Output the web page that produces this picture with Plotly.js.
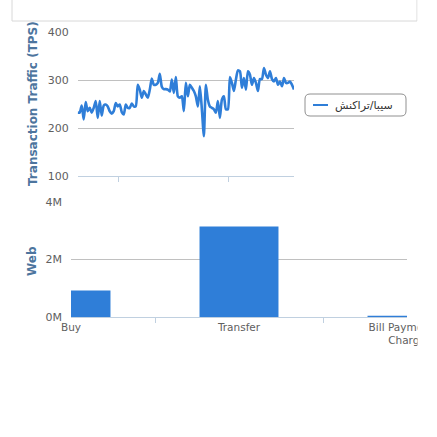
<!DOCTYPE html>
<html>
<head>
<meta charset="utf-8">
<script src="https://cdn.plot.ly/plotly-3.0.1.min.js"></script>
<style>
html,body{margin:0;padding:0;background:#fff;}
#chart{width:437px;height:437px;}
</style>
</head>
<body>
<div id="chart"></div>
<script>
// ---- data ----
var trafficName = "سیبا/تراکنش";
var trafficTPS = [232,232,247,218,254,235,242,232,242,256,221,256,226,247,249,245,235,230,235,252,
  245,249,233,228,249,242,242,251,245,245,290,280,263,277,270,263,280,303,290,290,
  294,313,286,281,281,280,276,301,273,306,266,263,266,235,294,266,290,284,277,266,
  245,287,239,183,290,259,245,242,239,232,256,221,259,266,239,239,306,294,277,301,
  320,318,284,304,280,318,311,290,304,294,277,302,302,325,311,304,318,302,297,304,
  290,297,287,304,294,294,297,290,280];
var trafficTickPositions = [20.4, 75.5];
var trafficYTicks = [100, 200, 300, 400];

var webCategories = ["Buy", "Transfer", "Bill Payment &<br>Charge"];
var webValues = [920000, 3150000, 40000];
var webYTicks = [0, 2000000, 4000000];
var webYTickLabels = ["0M", "2M", "4M"];

// ---- helpers ----
var W = 437, H = 437;
function px(x){ return x / W; }
function py(y){ return 1 - y / H; }
var idx = trafficTPS.map(function(_, i){ return i; });

var blue = "#2f7ed8";
var FONT = "DejaVu Sans, Verdana, sans-serif";
var tickFont = {family: FONT, size: 11, color: "#606060"};
var titleColor = "#4d759e";

var traces = [
  {
    type: "scatter", mode: "lines", name: trafficName,
    x: idx, y: trafficTPS, xaxis: "x", yaxis: "y",
    line: {color: blue, width: 2.6, shape: "spline", smoothing: 0.6},
    hoverinfo: "y", showlegend: false
  },
  {
    type: "bar", name: "Web", x: webCategories, y: webValues,
    xaxis: "x2", yaxis: "y2", marker: {color: blue, line: {width: 0}},
    width: 0.47, showlegend: false
  }
];

var layout = {
  width: W, height: H, autosize: false,
  margin: {l: 0, r: 0, t: 0, b: 0},
  paper_bgcolor: "#fff", plot_bgcolor: "rgba(0,0,0,0)",
  font: {family: FONT, size: 11, color: "#333"},
  showlegend: false,
  xaxis: {
    domain: [px(77.7), px(294)], range: [0, trafficTPS.length - 1],
    showgrid: false, zeroline: false, showline: true, linecolor: "#C0D0E0", linewidth: 1,
    ticks: "outside", ticklen: 5, tickcolor: "#C0D0E0",
    tickmode: "array", tickvals: trafficTickPositions, ticktext: ["", ""],
    automargin: false, fixedrange: true
  },
  yaxis: {
    domain: [py(176), py(32)], range: [100, 400],
    tickmode: "array", tickvals: trafficYTicks,
    showgrid: true, gridcolor: "#C0C0C0", gridwidth: 1,
    zeroline: false, showline: false, ticks: "", ticklabelstandoff: 8,
    tickfont: tickFont, automargin: false, fixedrange: true
  },
  xaxis2: {
    domain: [px(71), px(407)], range: [0, 2], type: "category",
    anchor: "y2", tickson: "boundaries",
    showgrid: false, zeroline: false, showline: true, linecolor: "#C0D0E0", linewidth: 1,
    ticks: "outside", ticklen: 5, tickcolor: "#C0D0E0",
    tickfont: {family: FONT, size: 10.5, color: "#606060"},
    tickangle: 0, automargin: false, fixedrange: true
  },
  yaxis2: {
    domain: [py(317), py(202)], range: [0, 4000000], anchor: "x2",
    tickmode: "array", tickvals: webYTicks, ticktext: webYTickLabels,
    showgrid: true, gridcolor: "#C0C0C0", gridwidth: 1,
    zeroline: false, showline: false, ticks: "", ticklabelstandoff: 8,
    tickfont: tickFont, automargin: false, fixedrange: true
  },
  annotations: [
    {text: "<b>Transaction Traffic (TPS)</b>", xref: "paper", yref: "paper",
     x: px(33), y: py(104), xanchor: "center", yanchor: "middle", textangle: -90, showarrow: false,
     font: {family: FONT, size: 12, color: titleColor}},
    {text: "<b>Web</b>", xref: "paper", yref: "paper",
     x: px(32), y: py(261), xanchor: "center", yanchor: "middle", textangle: -90, showarrow: false,
     font: {family: FONT, size: 12, color: titleColor}},
    // legend label
    {text: trafficName, xref: "paper", yref: "paper",
     x: px(364), y: py(105), xanchor: "center", yanchor: "middle", showarrow: false,
     font: {family: FONT, size: 11, color: "#333"}}
  ],
  shapes: [
    // top panel box (mostly above the visible area)
    {type: "rect", xref: "paper", yref: "paper", x0: px(12), x1: px(417), y0: py(21), y1: py(-40),
     line: {color: "#d8d8d8", width: 1}, fillcolor: "rgba(0,0,0,0)", layer: "below"},
    // rounded legend frame
    {type: "path", xref: "paper", yref: "paper", layer: "above",
     path: "M " + px(310) + " " + py(94) + " L " + px(401) + " " + py(94) +
           " Q " + px(406) + " " + py(94) + " " + px(406) + " " + py(99) +
           " L " + px(406) + " " + py(111) +
           " Q " + px(406) + " " + py(116) + " " + px(401) + " " + py(116) +
           " L " + px(310) + " " + py(116) +
           " Q " + px(305) + " " + py(116) + " " + px(305) + " " + py(111) +
           " L " + px(305) + " " + py(99) +
           " Q " + px(305) + " " + py(94) + " " + px(310) + " " + py(94) + " Z",
     line: {color: "#909090", width: 1}, fillcolor: "rgba(0,0,0,0)"},
    // legend symbol
    {type: "line", xref: "paper", yref: "paper", layer: "above",
     x0: px(313), x1: px(328), y0: py(105), y1: py(105),
     line: {color: blue, width: 2}},
    // right-hand clip of the page
    {type: "rect", xref: "paper", yref: "paper", x0: px(417.5), x1: 1.02, y0: -0.02, y1: 1.02,
     line: {width: 0}, fillcolor: "#ffffff", layer: "above"}
  ],
  hovermode: "closest"
};

Plotly.newPlot("chart", traces, layout, {displayModeBar: false, staticPlot: true});
</script>
</body>
</html>
